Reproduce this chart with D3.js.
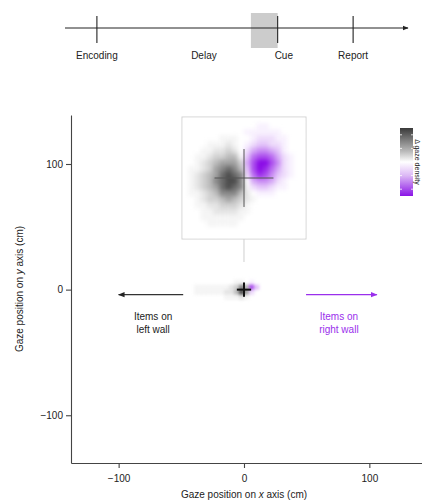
<!DOCTYPE html>
<html><head><meta charset="utf-8">
<script src="https://cdn.jsdelivr.net/npm/d3@7"></script>
<style>body{margin:0;background:#fff}svg{display:block;font-family:"Liberation Sans",Arial,sans-serif}</style>
</head><body><svg id="c" width="422" height="502"></svg>
<script>
// ---- data ----
const timelineTicks = [{name:"Encoding",t:0.93},{name:"Cue",t:6.2},{name:"Report",t:8.4}];
const timelineLabels = [{name:"Encoding",t:0.93},{name:"Delay",t:4.05},{name:"Cue",t:6.38},{name:"Report",t:8.4}];
const cueWindow = [5.42, 6.2];
const xTicks = [-100, 0, 100];
const yTicks = [-100, 0, 100];
const crossHalf = 5.7; // cm
// inset grid: 20x20 cells over [-12,12] cm; positive = left-wall (black), negative = right-wall (purple)
const insetExtent = [-12, 12];
const insetGrid = [
 [0,0,0,0,0,0,0,0,0,0,0,0,0,0,0,0,0,0,0,0],
 [0,0,0,0,0,0,0,0,0,0,0,0,-1,-1,0,0,0,0,0,0],
 [0,0,0,0,0,0,0,0,0,0,-1,-1,-1,-1,-1,-1,0,0,0,0],
 [0,0,0,0,0,0,1,1,1,0,0,-1,-2,-2,-2,-1,-1,0,0,0],
 [0,0,0,0,1,1,1,2,1,0,-1,-2,-3,-3,-2,-2,-1,0,0,0],
 [0,0,0,1,1,2,2,3,2,0,-2,-4,-5,-5,-4,-3,-1,0,0,0],
 [0,0,1,1,2,3,3,4,4,1,-3,-6,-7,-7,-6,-4,-2,-1,0,0],
 [0,0,1,2,3,4,5,5,5,3,-4,-7,-9,-9,-7,-5,-2,-1,0,0],
 [0,1,1,2,3,5,6,7,6,4,-3,-7,-9,-8,-6,-4,-2,-1,0,0],
 [0,1,2,3,4,5,7,8,7,6,-2,-6,-8,-7,-5,-3,-2,-1,0,0],
 [0,1,2,3,4,6,7,8,8,6,0,-4,-5,-5,-4,-2,-1,0,0,0],
 [0,1,2,3,4,5,7,8,7,6,1,-2,-3,-3,-2,-1,-1,0,0,0],
 [0,1,1,2,3,4,6,6,6,4,2,0,-1,-1,-1,0,0,0,0,0],
 [0,0,1,2,3,3,4,5,4,3,2,1,0,0,0,0,0,0,0,0],
 [0,0,1,1,2,2,3,3,3,2,1,0,0,0,0,0,0,0,0,0],
 [0,0,0,1,1,2,2,2,2,1,1,0,0,0,0,0,0,0,0,0],
 [0,0,0,1,1,1,1,1,1,1,0,0,0,0,0,0,0,0,0,0],
 [0,0,0,0,1,1,1,1,1,0,0,0,0,0,0,0,0,0,0,0],
 [0,0,0,0,0,0,0,0,0,0,0,0,0,0,0,0,0,0,0,0],
 [0,0,0,0,0,0,0,0,0,0,0,0,0,0,0,0,0,0,0,0]
];
// main-plot blob: columns over x [-48,16] step 4 cm, rows (top->bottom) y [8..-8] step 4 cm
const mainX0 = -48, mainY0 = 8, mainCell = 4;
const mainGrid = [
 [0,0,0,0,0,0,0,0,0,0,1,1,0,-1,0,0],
 [0,0,1,1,1,1,1,1,1,2,3,6,4,-7,-3,0],
 [0,0,1,1,1,1,1,1,2,2,4,8,5,-2,0,0],
 [0,0,0,0,0,0,0,0,1,1,1,2,1,0,0,0]
];
const leftArrow = {x1:-48.5, x2:-100, y:-4};
const rightArrow = {x1:49.5, x2:106, y:-4};
const leftText = {x:-72.5, lines:["Items on","left wall"]};
const rightText = {x:75.7, lines:["Items on","right wall"]};

// ---- drawing ----
const svg = d3.select("#c");
const PURPLE = "#9a2fec", DARK = "#2b2b2b";
const ib = d3.interpolateRgb("#ffffff", DARK), ip = d3.interpolateRgb("#ffffff", "#8a0ae6");
const col = v => v >= 0 ? ib(Math.pow(Math.min(v,9)/9,1.4)) : ip(Math.pow(Math.min(-v,9)/9,1.3));

const defs = svg.append("defs");
defs.append("marker").attr("id","ahK").attr("viewBox","0 0 10 10").attr("refX",9).attr("refY",5)
 .attr("markerWidth",6).attr("markerHeight",6).attr("orient","auto-start-reverse")
 .append("path").attr("d","M0,1L10,5L0,9Z").attr("fill","#222");
defs.append("marker").attr("id","ahP").attr("viewBox","0 0 10 10").attr("refX",9).attr("refY",5)
 .attr("markerWidth",6).attr("markerHeight",6).attr("orient","auto")
 .append("path").attr("d","M0,1L10,5L0,9Z").attr("fill",PURPLE);

// timeline
const tS = d3.scaleLinear().domain([0,10]).range([65,408]);
const tlY = 28;
svg.append("rect").attr("x",tS(cueWindow[0])).attr("y",13).attr("width",tS(cueWindow[1])-tS(cueWindow[0])).attr("height",35).attr("fill","#cccccc");
svg.append("line").attr("x1",tS(0)).attr("x2",tS(10)).attr("y1",tlY).attr("y2",tlY).attr("stroke","#222").attr("stroke-width",1).attr("marker-end","url(#ahK)");
svg.selectAll(".tt").data(timelineTicks).join("line").attr("x1",d=>tS(d.t)).attr("x2",d=>tS(d.t)).attr("y1",16).attr("y2",43).attr("stroke","#222").attr("stroke-width",1.1);
svg.selectAll(".tl").data(timelineLabels).join("text").attr("x",d=>tS(d.t)).attr("y",59).attr("text-anchor","middle").attr("font-size",10).attr("fill","#222").text(d=>d.name);

// main axes
const x = d3.scaleLinear().domain([-138,142]).range([71,422]);
const y = d3.scaleLinear().domain([-138,139]).range([463,115]);

// main blob
const mg = svg.append("g").style("filter","blur(1.4px)");
mainGrid.forEach((row,r)=>row.forEach((v,c)=>{
  if(v===0) return;
  const x0 = mainX0 + c*mainCell, y0 = mainY0 - r*mainCell;
  mg.append("rect").attr("x",x(x0)).attr("y",y(y0)).attr("width",x(x0+mainCell)-x(x0)+0.3).attr("height",y(y0-mainCell)-y(y0)+0.3).attr("fill",col(v));
}));
// main crosshair
svg.append("line").attr("x1",x(-crossHalf)).attr("x2",x(crossHalf)).attr("y1",y(0)).attr("y2",y(0)).attr("stroke","#111").attr("stroke-width",2);
svg.append("line").attr("x1",x(0)).attr("x2",x(0)).attr("y1",y(-crossHalf)).attr("y2",y(crossHalf)).attr("stroke","#111").attr("stroke-width",2);

// connector
svg.append("line").attr("x1",x(0)).attr("x2",x(0)).attr("y1",239).attr("y2",262).attr("stroke","#cfcfcf").attr("stroke-width",1);

// inset
const ix = d3.scaleLinear().domain(insetExtent).range([182,306]);
const iy = d3.scaleLinear().domain([insetExtent[1],insetExtent[0]]).range([117,239]);
svg.append("rect").attr("x",182).attr("y",117).attr("width",124).attr("height",122).attr("fill","#fff").attr("stroke","#d2d2d2").attr("stroke-width",1);
defs.append("clipPath").attr("id","clipI").append("rect").attr("x",182.5).attr("y",117.5).attr("width",123).attr("height",121);
const n = insetGrid.length, cs = (insetExtent[1]-insetExtent[0])/n;
const ig = svg.append("g").attr("clip-path","url(#clipI)").append("g").style("filter","blur(2.2px)");
insetGrid.forEach((row,r)=>row.forEach((v,c)=>{
  const x0 = insetExtent[0]+c*cs, y0 = insetExtent[1]-r*cs;
  ig.append("rect").attr("x",ix(x0)).attr("y",iy(y0)).attr("width",ix(x0+cs)-ix(x0)+0.4).attr("height",iy(y0-cs)-iy(y0)+0.4).attr("fill",col(v));
}));
svg.append("line").attr("x1",ix(-crossHalf)).attr("x2",ix(crossHalf)).attr("y1",iy(0)).attr("y2",iy(0)).attr("stroke","#555").attr("stroke-width",1);
svg.append("line").attr("x1",ix(0)).attr("x2",ix(0)).attr("y1",iy(-crossHalf)).attr("y2",iy(crossHalf)).attr("stroke","#555").attr("stroke-width",1);

// arrows + text
svg.append("line").attr("x1",x(leftArrow.x1)).attr("x2",x(leftArrow.x2)).attr("y1",y(leftArrow.y)).attr("y2",y(leftArrow.y)).attr("stroke","#333").attr("stroke-width",1.1).attr("marker-end","url(#ahK)");
svg.append("line").attr("x1",x(rightArrow.x1)).attr("x2",x(rightArrow.x2)).attr("y1",y(rightArrow.y)).attr("y2",y(rightArrow.y)).attr("stroke",PURPLE).attr("stroke-width",1.1).attr("marker-end","url(#ahP)");
[[leftText,"#222"],[rightText,PURPLE]].forEach(([t,c])=>{
  const tx = svg.append("text").attr("text-anchor","middle").attr("font-size",10).attr("fill",c);
  t.lines.forEach((l,i)=>tx.append("tspan").attr("x",x(t.x)).attr("y",320+i*13).text(l));
});

// axes
const ax = svg.append("g").attr("transform","translate(0,463)").call(d3.axisBottom(x).tickValues(xTicks).tickSize(5).tickSizeOuter(0));
const ay = svg.append("g").attr("transform","translate(71,0)").call(d3.axisLeft(y).tickValues(yTicks).tickSize(5).tickSizeOuter(0));
[ax,ay].forEach(a=>{a.selectAll("path,line").attr("stroke","#444").attr("stroke-width",1.1);a.selectAll("text").attr("font-size",10).attr("fill","#222").style("font-family","'Liberation Sans',Arial,sans-serif");});
ax.selectAll("text").attr("dy","1.1em");

const xl = svg.append("text").attr("x",244).attr("y",498).attr("text-anchor","middle").attr("font-size",10).attr("fill","#222");
xl.append("tspan").text("Gaze position on ");xl.append("tspan").attr("font-style","italic").text("x");xl.append("tspan").text(" axis (cm)");
const yl = svg.append("text").attr("transform","translate(23,289) rotate(-90)").attr("text-anchor","middle").attr("font-size",10).attr("fill","#222");
yl.append("tspan").text("Gaze position on ");yl.append("tspan").attr("font-style","italic").text("y");yl.append("tspan").text(" axis (cm)");

// colorbar
const cbStops = [[0,"#3a3a3a"],[0.35,"#bdbdbd"],[0.5,"#ffffff"],[0.7,"#dcb8f5"],[1,"#8a14e6"]];
const lg = defs.append("linearGradient").attr("id","cb").attr("x1",0).attr("x2",0).attr("y1",0).attr("y2",1);
cbStops.forEach(s=>lg.append("stop").attr("offset",s[0]).attr("stop-color",s[1]));
svg.append("rect").attr("x",400).attr("y",128).attr("width",13).attr("height",68).attr("fill","url(#cb)");
const cbY = d3.scaleLinear().domain([1,-1]).range([128,196]);
[0.8,0.4,-0.4,-0.8].forEach(v=>{
  svg.append("line").attr("x1",400).attr("x2",402).attr("y1",cbY(v)).attr("y2",cbY(v)).attr("stroke","#fff").attr("stroke-opacity",0.8);
  svg.append("line").attr("x1",411).attr("x2",413).attr("y1",cbY(v)).attr("y2",cbY(v)).attr("stroke","#fff").attr("stroke-opacity",0.8);
});
svg.append("text").attr("transform","translate(414.5,162) rotate(90)").attr("text-anchor","middle").attr("font-size",7).attr("fill","#222").text("Δ gaze density");
</script></body></html>
